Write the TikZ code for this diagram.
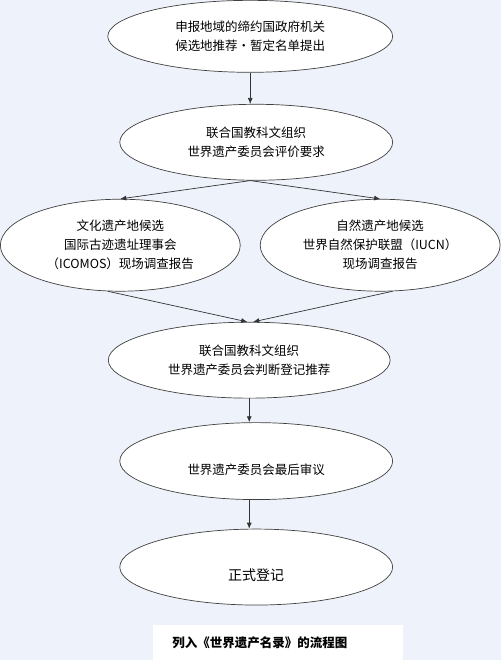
\documentclass[tikz,border=0pt]{standalone}
\usepackage{fontspec}
\newfontfamily\cjk{Noto Sans CJK SC}
\usetikzlibrary{shapes.geometric,arrows.meta}
\definecolor{pagebg}{HTML}{EEF2FA}

\begin{document}
\begin{tikzpicture}[x=1pt, y=-1pt, >={Latex[length=6pt,width=5pt]},
    font=\cjk\fontsize{12.5pt}{19pt}\selectfont,
    stage/.style={ellipse, draw=black!75, fill=white, line width=0.7pt,
                  align=center, inner sep=0pt},
    lowtext/.style={text height=26pt, text depth=0pt},
    flow/.style={->, black!80, line width=0.7pt}]
    \fill[pagebg] (0,0) rectangle (501,660);
    % stages
    \node[stage, minimum width=285pt, minimum height=72pt] (submit) at (250,36)
      {申报地域的缔约国政府机关\\候选地推荐・暂定名单提出};
    \node[stage, minimum width=273pt, minimum height=76pt] (request) at (256,142)
      {联合国教科文组织\\世界遗产委员会评价要求};
    \node[stage, minimum width=240pt, minimum height=92pt] (culture) at (120,245)
      {文化遗产地候选\\国际古迹遗址理事会\\（ICOMOS）现场调查报告};
    \node[stage, minimum width=240pt, minimum height=92pt] (nature) at (380,245)
      {自然遗产地候选\\世界自然保护联盟（IUCN）\\现场调查报告};
    \node[stage, minimum width=282pt, minimum height=76pt] (judge) at (249,360)
      {联合国教科文组织\\世界遗产委员会判断登记推荐};
    \node[stage, lowtext, minimum width=273pt, minimum height=77pt] (review) at (256,461)
      {世界遗产委员会最后审议};
    \node[stage, lowtext, minimum width=273pt, minimum height=76pt,
          font=\cjk\fontsize{14pt}{19pt}\selectfont] (listed) at (256,567)
      {正式登记};
    \node[fill=white, anchor=west, inner xsep=19pt, inner ysep=0pt, text width=212pt,
          minimum height=35pt, align=left,
          font=\cjk\bfseries\fontsize{12.5pt}{15pt}\selectfont] (caption) at (153,642.5)
      {列入《世界遗产名录》的流程图};
    % connectors
    \draw[flow] (submit.south) -- (submit.south |- request.north);
    \draw[flow] (submit.south |- request.south) -- (culture.north);
    \draw[flow] (submit.south |- request.south) -- (nature.north);
    \draw[flow] (culture.255) -- ([xshift=-2pt]judge.north);
    \draw[flow] (nature.285) -- ([xshift=4pt]judge.north);
    \draw[flow] (judge.south) -- (judge.south |- review.north);
    \draw[flow] (judge.south |- review.south) -- (judge.south |- listed.north);
\end{tikzpicture}
\end{document}
